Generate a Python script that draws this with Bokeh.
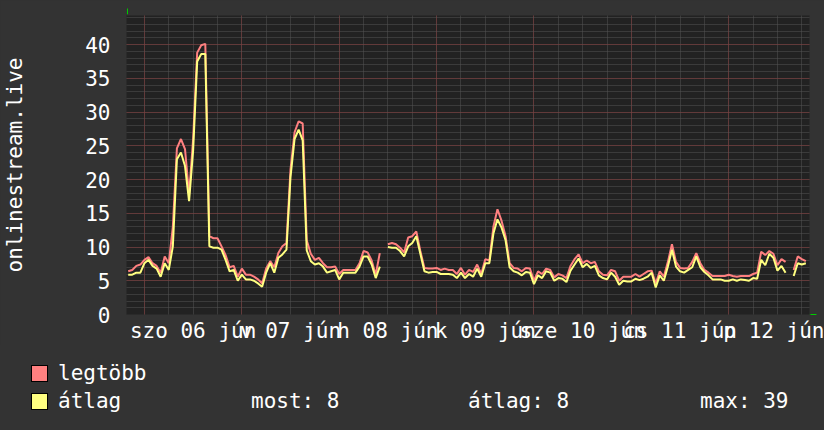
from bokeh.plotting import figure
from bokeh.models import FixedTicker, ColumnDataSource, Arrow, NormalHead, Range1d, Div
from bokeh.layouts import column
from bokeh.embed import file_html
from bokeh.resources import INLINE

nan = float("nan")

# hours since 2020-06-06 00:00 (one sample per hour)
HOURS = list(range(-4, 164))

# "átlag" (average) series
AVG = [5.9, 5.9, 6.2, 6.2,
       7.6, 8.1, 7.2, 6.8, 5.6, 7.6, 6.6, 10.1, 23.0, 24.0, 22.0, 16.8,
       24.3, 37.5, 38.6, 38.6, 10.1, 9.9, 9.9, 9.6, 8.1, 6.4, 6.6, 5.0,
       5.9, 5.2, 5.2, 5.0, 4.6, 4.1, 6.2, 7.6, 6.2, 8.4, 8.9, 9.6,
       20.4, 26.0, 27.4, 25.8, 9.5, 7.9, 7.4, 7.6, 7.1, 6.2, 6.4, 6.6,
       5.2, 6.2, 6.2, 6.2, 6.2, 7.1, 8.6, 8.6, 7.4, 5.4, 7.1, nan,
       10.0, 9.9, 9.9, 9.4, 8.6, 10.1, 10.6, 11.6, 9.0, 6.4, 6.2, 6.3,
       6.3, 6.0, 6.0, 6.0, 5.9, 5.4, 6.2, 5.4, 6.0, 5.6, 6.8, 5.6,
       7.6, 7.6, 12.0, 14.1, 12.9, 11.0, 7.0, 6.4, 6.2, 5.8, 6.3, 6.2,
       4.5, 5.8, 5.4, 6.4, 6.2, 5.0, 5.4, 5.3, 4.8, 6.5, 7.4, 8.3,
       7.0, 7.5, 6.9, 7.2, 5.8, 5.4, 5.2, 6.2, 5.6, 4.4, 5.0, 4.9,
       4.9, 5.3, 5.1, 5.3, 5.6, 6.2, 4.0, 5.8, 5.0, 7.1, 9.6, 7.1,
       6.4, 6.2, 6.6, 7.0, 8.6, 7.0, 6.3, 5.8, 5.2, 5.2, 5.2, 5.0,
       5.0, 5.2, 5.0, 5.2, 5.1, 5.0, 5.4, 5.3, 8.1, 7.3, 9.0, 8.4,
       6.5, 7.2, 6.2, nan, 5.7, 7.6, 7.4, 7.6]

# "legtöbb" (maximum) series
MAX = [6.4, 6.6, 7.2, 7.4,
       8.1, 8.5, 7.6, 7.2, 6.2, 8.6, 7.6, 13.0, 24.6, 26.0, 24.5, 17.8,
       26.0, 38.8, 39.9, 40.1, 11.6, 11.3, 11.3, 10.1, 8.8, 7.0, 7.2, 5.6,
       6.8, 5.9, 5.9, 5.6, 5.2, 4.6, 6.8, 7.9, 7.0, 9.1, 10.1, 10.6,
       21.5, 27.0, 28.6, 28.3, 11.0, 9.0, 8.1, 8.4, 7.6, 7.0, 7.0, 7.1,
       6.0, 6.6, 6.6, 6.6, 6.6, 7.6, 9.4, 9.2, 8.0, 5.9, 9.1, nan,
       10.4, 10.6, 10.4, 9.9, 9.2, 11.4, 11.6, 12.3, 9.4, 6.9, 6.8, 6.8,
       6.9, 6.6, 6.8, 6.6, 6.6, 6.0, 6.9, 5.9, 6.6, 6.3, 7.4, 6.0,
       8.2, 8.0, 13.0, 15.6, 13.9, 11.6, 7.6, 6.9, 6.8, 6.4, 6.9, 6.8,
       5.0, 6.4, 6.0, 6.8, 6.6, 5.5, 6.0, 5.8, 5.4, 7.2, 8.2, 8.9,
       7.6, 8.0, 7.6, 7.8, 6.4, 5.9, 5.8, 6.6, 6.4, 5.0, 5.6, 5.6,
       5.6, 6.0, 5.6, 6.0, 6.4, 6.5, 4.6, 6.4, 5.6, 7.8, 10.4, 7.8,
       6.9, 6.8, 6.9, 7.8, 9.1, 7.6, 6.6, 6.2, 5.7, 5.7, 5.7, 5.7,
       5.9, 5.7, 5.6, 5.7, 5.7, 5.7, 6.0, 6.2, 9.3, 8.8, 9.4, 9.0,
       7.3, 8.2, 7.8, nan, 6.6, 8.6, 8.2, 7.9]

# x tick labels at noon of each day
LABEL_HOURS = [12, 36, 60, 84, 108, 132, 156]
X_LABELS = ["szo 06 jún", "v 07 jún", "h 08 jún", "k 09 jún",
            "sze 10 jún", "cs 11 jún", "p 12 jún"]
MIDNIGHTS = [0, 24, 48, 72, 96, 120, 144]
SIX_HOURS = list(range(0, 166, 6))
Y_TICKS = [0, 5, 10, 15, 20, 25, 30, 35, 40]
Y_MINOR = list(range(0, 45))

Y_TITLE = "onlinestream.live"
SERIES_NAMES = ["legtöbb", "átlag"]
STATS = ["most: 8", "átlag: 8", "max: 39"]

X_START, X_END = -4.42, 163.9
Y_TOP = 44.3

FONT = "DejaVu Sans Mono"
BG = "#333333"
CANVAS = "#222222"
MAX_COLOR = "#ff8080"
AVG_COLOR = "#ffff80"
GREEN = "#00cc00"

W = 824
PLOT_H, LEG_H = 345, 85
FL, FR, FT, FB = 124, 809, 15, 315   # frame edges in pixels

p = figure(width=W, height=PLOT_H,
           x_range=Range1d(X_START, X_END), y_range=Range1d(0, Y_TOP),
           output_backend="svg", toolbar_location=None,
           background_fill_color=CANVAS, border_fill_color=BG,
           min_border_left=FL, min_border_right=W - FR,
           min_border_top=FT, min_border_bottom=PLOT_H - FB)
p.outline_line_color = None

def px_x(px):
    return X_START + (px - FL) * (X_END - X_START) / (FR - FL)

def px_y(py):
    return (FB - py) * Y_TOP / (FB - FT)

src = ColumnDataSource(dict(h=HOURS, avg=AVG, mx=MAX))
p.line("h", "mx", source=src, line_color=MAX_COLOR, line_width=2)
p.line("h", "avg", source=src, line_color=AVG_COLOR, line_width=2)

# grids
p.xgrid.ticker = FixedTicker(ticks=MIDNIGHTS, minor_ticks=SIX_HOURS)
p.ygrid.ticker = FixedTicker(ticks=Y_TICKS, minor_ticks=Y_MINOR)
for g in (p.xgrid, p.ygrid):
    g.grid_line_color = "#8a3a3a"
    g.grid_line_dash = "1 1"
    g.grid_line_width = 1
    g.minor_grid_line_color = "#555555"
    g.minor_grid_line_dash = "1 1"
    g.minor_grid_line_width = 1

# axes
p.xaxis.ticker = FixedTicker(ticks=LABEL_HOURS)
p.xaxis.major_label_overrides = {h: lab for h, lab in zip(LABEL_HOURS, X_LABELS)}
p.yaxis.ticker = FixedTicker(ticks=Y_TICKS)
for ax in (p.xaxis, p.yaxis):
    ax.axis_line_color = None
    ax.major_tick_line_color = None
    ax.minor_tick_line_color = None
    ax.major_tick_out = 0
    ax.minor_tick_out = 0
    ax.major_tick_in = 0
    ax.minor_tick_in = 0
    ax.major_label_text_font = FONT
    ax.major_label_text_font_size = "21px"
    ax.major_label_text_color = "white"
p.xaxis.major_label_standoff = 4
p.yaxis.major_label_standoff = 16
p.yaxis.axis_label = Y_TITLE
p.yaxis.axis_label_text_font = FONT
p.yaxis.axis_label_text_font_size = "21px"
p.yaxis.axis_label_text_font_style = "normal"
p.yaxis.axis_label_text_color = "white"
p.yaxis.axis_label_text_line_height = 1.0
p.yaxis.axis_label_standoff = 55

# axis arrows
p.add_layout(Arrow(end=NormalHead(size=6, fill_color=GREEN, line_color=GREEN, line_width=1),
                   x_start=px_x(125), y_start=px_y(14), x_end=px_x(125), y_end=px_y(8),
                   line_color=GREEN, line_width=1))
p.add_layout(Arrow(end=NormalHead(size=6, fill_color=GREEN, line_color=GREEN, line_width=1),
                   x_start=px_x(809), y_start=0, x_end=px_x(816), y_end=0,
                   line_color=GREEN, line_width=1))

# legend area below the plot (RRDtool-style legend rows)
def box(left, top, color):
    return (f'<div style="position:absolute;left:{left}px;top:{top}px;width:17px;height:17px;'
            f'box-sizing:border-box;border:1px solid #000;background:{color};"></div>')

def txt(left, top, s):
    return (f'<span style="position:absolute;left:{left}px;top:{top}px;'
            f'white-space:pre;line-height:normal;">{s}</span>')

parts = [box(31, 20, MAX_COLOR), txt(58, 15.5, SERIES_NAMES[0]),
         box(31, 48, AVG_COLOR), txt(58, 43.5, SERIES_NAMES[1])]
for left, s in zip([251, 468, 700], STATS):
    parts.append(txt(left, 43.5, s))

html = (f'<div style="position:relative;width:{W}px;height:{LEG_H}px;background:{BG};'
        f'font-family:\'{FONT}\';font-size:21px;color:#ffffff;margin:0;padding:0;">'
        + "".join(parts) + '</div>')
leg = Div(text=html, width=W, height=LEG_H, margin=0,
          styles={"background-color": BG})

layout = column(p, leg, spacing=0, styles={"background-color": BG})
open("out.html", "w").write(file_html(layout, INLINE))
